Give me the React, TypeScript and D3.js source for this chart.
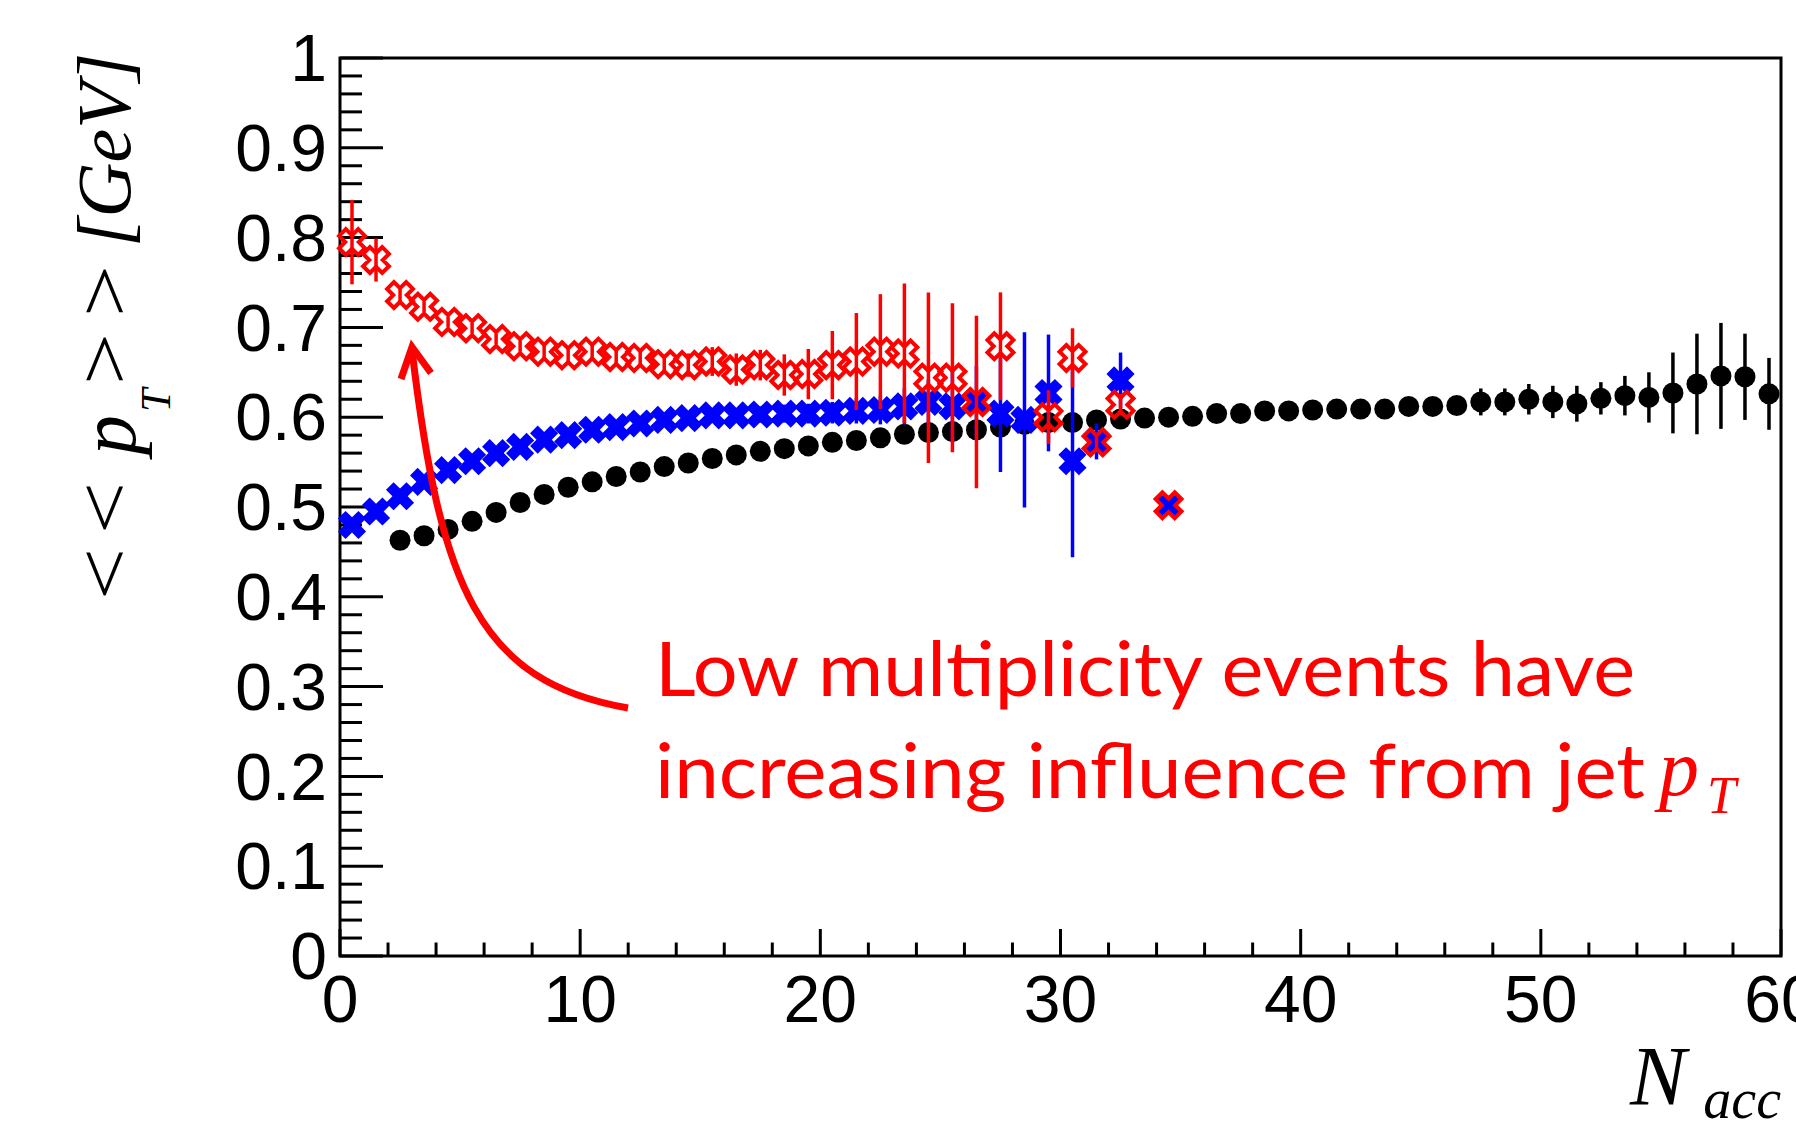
import React from "react"
import * as d3 from "d3"

// <<pT>> vs Nacc, three samples
const yTickLabels = ["0", "0.1", "0.2", "0.3", "0.4", "0.5", "0.6", "0.7", "0.8", "0.9", "1"]
const xTickLabels = ["0", "10", "20", "30", "40", "50", "60"]

// all events (black dots)
const blackX = [
	2.5, 3.5, 4.5, 5.5, 6.5, 7.5, 8.5, 9.5, 10.5, 11.5, 12.5, 13.5, 14.5, 15.5, 16.5, 17.5, 18.5, 19.5,
	20.5, 21.5, 22.5, 23.5, 24.5, 25.5, 26.5, 27.5, 28.5, 29.5, 30.5, 31.5, 32.5, 33.5, 34.5, 35.5,
	36.5, 37.5, 38.5, 39.5, 40.5, 41.5, 42.5, 43.5, 44.5, 45.5, 46.5, 47.5, 48.5, 49.5, 50.5, 51.5,
	52.5, 53.5, 54.5, 55.5, 56.5, 57.5, 58.5, 59.5,
]
const blackY = [
	0.463, 0.468, 0.475, 0.484, 0.494, 0.505, 0.514, 0.522, 0.528, 0.534, 0.539, 0.545, 0.549, 0.554,
	0.558, 0.562, 0.565, 0.568, 0.572, 0.574, 0.577, 0.581, 0.583, 0.584, 0.586, 0.589, 0.592, 0.594,
	0.594, 0.597, 0.598, 0.599, 0.6, 0.601, 0.604, 0.604, 0.607, 0.607, 0.608, 0.609, 0.609, 0.609,
	0.612, 0.612, 0.613, 0.617, 0.617, 0.62, 0.617, 0.615, 0.621, 0.624, 0.622, 0.627, 0.637, 0.646,
	0.645, 0.626,
]
const blackErr = [
	0.003, 0.003, 0.003, 0.003, 0.003, 0.003, 0.003, 0.003, 0.003, 0.003, 0.003, 0.003, 0.003, 0.003,
	0.003, 0.003, 0.003, 0.003, 0.003, 0.003, 0.003, 0.003, 0.003, 0.003, 0.003, 0.003, 0.003, 0.003,
	0.003, 0.004, 0.004, 0.004, 0.005, 0.005, 0.005, 0.006, 0.006, 0.006, 0.007, 0.007, 0.008, 0.008,
	0.008, 0.009, 0.01, 0.015, 0.015, 0.017, 0.018, 0.02, 0.018, 0.022, 0.028, 0.045, 0.056, 0.059,
	0.048, 0.04,
]

// filled blue crosses
const blueX = [
	0.5, 1.5, 2.5, 3.5, 4.5, 5.5, 6.5, 7.5, 8.5, 9.5, 10.5, 11.5, 12.5, 13.5, 14.5, 15.5, 16.5, 17.5,
	18.5, 19.5, 20.5, 21.5, 22.5, 23.5, 24.5, 25.5, 26.5, 27.5, 28.5, 29.5, 30.5, 31.5, 32.5, 34.5,
]
const blueY = [
	0.48, 0.495, 0.512, 0.528, 0.541, 0.551, 0.56, 0.567, 0.575, 0.58, 0.586, 0.589, 0.593, 0.597,
	0.599, 0.602, 0.602, 0.603, 0.604, 0.604, 0.605, 0.607, 0.608, 0.612, 0.617, 0.612, 0.617, 0.604,
	0.597, 0.627, 0.551, 0.573, 0.641, 0.502,
]
const blueErr = [
	0.004, 0.004, 0.004, 0.004, 0.004, 0.004, 0.004, 0.004, 0.004, 0.005, 0.005, 0.005, 0.006, 0.006,
	0.007, 0.007, 0.008, 0.009, 0.01, 0.011, 0.012, 0.014, 0.016, 0.02, 0.025, 0.04, 0.04, 0.065,
	0.0975, 0.065, 0.107, 0.02, 0.031, 0,
]

// open red crosses
const redX = [
	0.5, 1.5, 2.5, 3.5, 4.5, 5.5, 6.5, 7.5, 8.5, 9.5, 10.5, 11.5, 12.5, 13.5, 14.5, 15.5, 16.5, 17.5,
	18.5, 19.5, 20.5, 21.5, 22.5, 23.5, 24.5, 25.5, 26.5, 27.5, 29.5, 30.5, 31.5, 32.5, 34.5,
]
const redY = [
	0.795, 0.775, 0.736, 0.723, 0.706, 0.699, 0.687, 0.679, 0.673, 0.669, 0.673, 0.667, 0.666, 0.659,
	0.658, 0.662, 0.653, 0.658, 0.647, 0.648, 0.658, 0.662, 0.673, 0.671, 0.644, 0.644, 0.617, 0.679,
	0.6, 0.666, 0.572, 0.614, 0.502,
]
const redErr = [
	0.047, 0.024, 0.008, 0.006, 0.006, 0.006, 0.006, 0.006, 0.007, 0.008, 0.008, 0.009, 0.01, 0.011,
	0.013, 0.016, 0.018, 0.017, 0.023, 0.028, 0.038, 0.054, 0.064, 0.078, 0.095, 0.083, 0.096, 0.06,
	0.03, 0.033, 0.01, 0.012, 0,
]

const annotationLines = ["Low multiplicity events have", "increasing influence from jet "]

const W = 1796
const H = 1127
const left = 340
const right = 1781
const top = 58
const bottom = 956

const x = d3.scaleLinear().domain([0, 60]).range([left, right])
const y = d3.scaleLinear().domain([0, 1]).range([bottom, top])

// "x" shaped cross: a plus polygon turned by 45 degrees
const crossPath = (R: number, w: number) => {
	const pts = [
		[w, R], [w, w], [R, w], [R, -w], [w, -w], [w, -R],
		[-w, -R], [-w, -w], [-R, -w], [-R, w], [-w, w], [-w, R],
	]
	return "M" + pts.map(p => p.join(",")).join("L") + "Z"
}
const blueCross = crossPath(14.5, 5.4)
const redCross = crossPath(13.5, 4.8)

const serif = "'Liberation Serif', 'Times New Roman', serif"
const sans = "'Liberation Sans', Arial, sans-serif"

const ErrorBars = ({ xs, ys, es, color }: { xs: number[]; ys: number[]; es: number[]; color: string }) => (
	<g stroke={color} strokeWidth={3.5}>
		{xs.map((v, i) =>
			es[i] > 0 ? (
				<line key={i} x1={x(v)} x2={x(v)} y1={y(ys[i] - es[i])} y2={y(ys[i] + es[i])} />
			) : null,
		)}
	</g>
)

export default function App() {
	const yMajor = d3.range(0, 11).map(d => d / 10)
	const yMinor = d3.range(0, 51).map(d => d / 50)
	const xMajor = d3.range(0, 61, 10)
	const xMinor = d3.range(0, 61, 2)

	// arrow curve from the text to the red points
	const arrow = d3.path()
	arrow.moveTo(628, 708)
	arrow.bezierCurveTo(478, 682, 440, 585, 412, 350)

	return (
		<svg
			width={W}
			height={H}
			style={{ position: "absolute", left: 0, top: 0, background: "#fff" }}
		>
			<rect width={W} height={H} fill="#fff" />

			{/* frame + axes */}
			<rect x={left} y={top} width={right - left} height={bottom - top} fill="none" stroke="#000" strokeWidth={3} />
			<g stroke="#000" strokeWidth={3}>
				{yMinor.map((d, i) => (
					<line key={"ym" + i} x1={left} x2={left + (i % 5 === 0 ? 43 : 22)} y1={y(d)} y2={y(d)} />
				))}
				{xMinor.map((d, i) => (
					<line key={"xm" + i} x1={x(d)} x2={x(d)} y1={bottom} y2={bottom - (d % 10 === 0 ? 27 : 13.5)} />
				))}
			</g>
			<g fontFamily={sans} fontSize={66} fill="#000">
				{yMajor.map((d, i) => (
					<text key={"yl" + i} x={left - 13} y={y(d)} dy="0.35em" textAnchor="end">
						{yTickLabels[i]}
					</text>
				))}
				{xMajor.map((d, i) => (
					<text key={"xl" + i} x={x(d)} y={1022} textAnchor="middle">
						{xTickLabels[i]}
					</text>
				))}
			</g>

			{/* black: all events */}
			<ErrorBars xs={blackX} ys={blackY} es={blackErr} color="#000" />
			<g fill="#000">
				{blackX.map((v, i) => (
					<circle key={i} cx={x(v)} cy={y(blackY[i])} r={10.5} />
				))}
			</g>

			{/* blue */}
			<ErrorBars xs={blueX} ys={blueY} es={blueErr} color="#0000ff" />
			<g fill="#0000ff">
				{blueX.map((v, i) => (
					<path key={i} d={blueCross} transform={`translate(${x(v)},${y(blueY[i])}) rotate(45)`} />
				))}
			</g>

			{/* red, open markers */}
			<ErrorBars xs={redX} ys={redY} es={redErr} color="#ff0000" />
			<g fill="none" stroke="#ff0000" strokeWidth={4}>
				{redX.map((v, i) => (
					<path key={i} d={redCross} transform={`translate(${x(v)},${y(redY[i])}) rotate(45)`} />
				))}
			</g>

			{/* y title */}
			<g transform="translate(130,598) rotate(-90)" fontFamily={serif} fontSize={76} fill="#000">
				<text x={-2} y={0} textLength={52} lengthAdjust="spacingAndGlyphs">{"<"}</text>
				<text x={64} y={0} textLength={52} lengthAdjust="spacingAndGlyphs">{"<"}</text>
				<text x={143} y={5} fontStyle="italic" fontSize={80}>p</text>
				<text x={186} y={40} fontStyle="italic" fontSize={42}>T</text>
				<text x={213} y={0} textLength={52} lengthAdjust="spacingAndGlyphs">{">"}</text>
				<text x={281} y={0} textLength={52} lengthAdjust="spacingAndGlyphs">{">"}</text>
				<text x={351} y={0} fontStyle="italic">[GeV]</text>
			</g>

			{/* x title */}
			<g fontFamily={serif} fontStyle="italic" fill="#000">
				<text x={1630} y={1105} fontSize={84}>N</text>
				<text x={right} y={1118} fontSize={56} textAnchor="end">acc</text>
			</g>

			{/* annotation */}
			<path d={arrow.toString()} fill="none" stroke="#ff0000" strokeWidth={7} />
			<polyline points="401,379 412,347 431,373" fill="none" stroke="#ff0000" strokeWidth={7} strokeLinejoin="miter" />
			<g fill="#ff0000" fontFamily="Lato, 'Noto Sans', sans-serif" fontSize={76}>
				<text x={655} y={696} textLength={980} lengthAdjust="spacingAndGlyphs">{annotationLines[0]}</text>
				<text x={655} y={798} textLength={990} lengthAdjust="spacingAndGlyphs">{annotationLines[1]}</text>
				<text x={1659} y={795} fontFamily={serif} fontStyle="italic" fontSize={80}>p</text>
				<text x={1707} y={813} fontFamily={serif} fontStyle="italic" fontSize={52}>T</text>
			</g>
		</svg>
	)
}
